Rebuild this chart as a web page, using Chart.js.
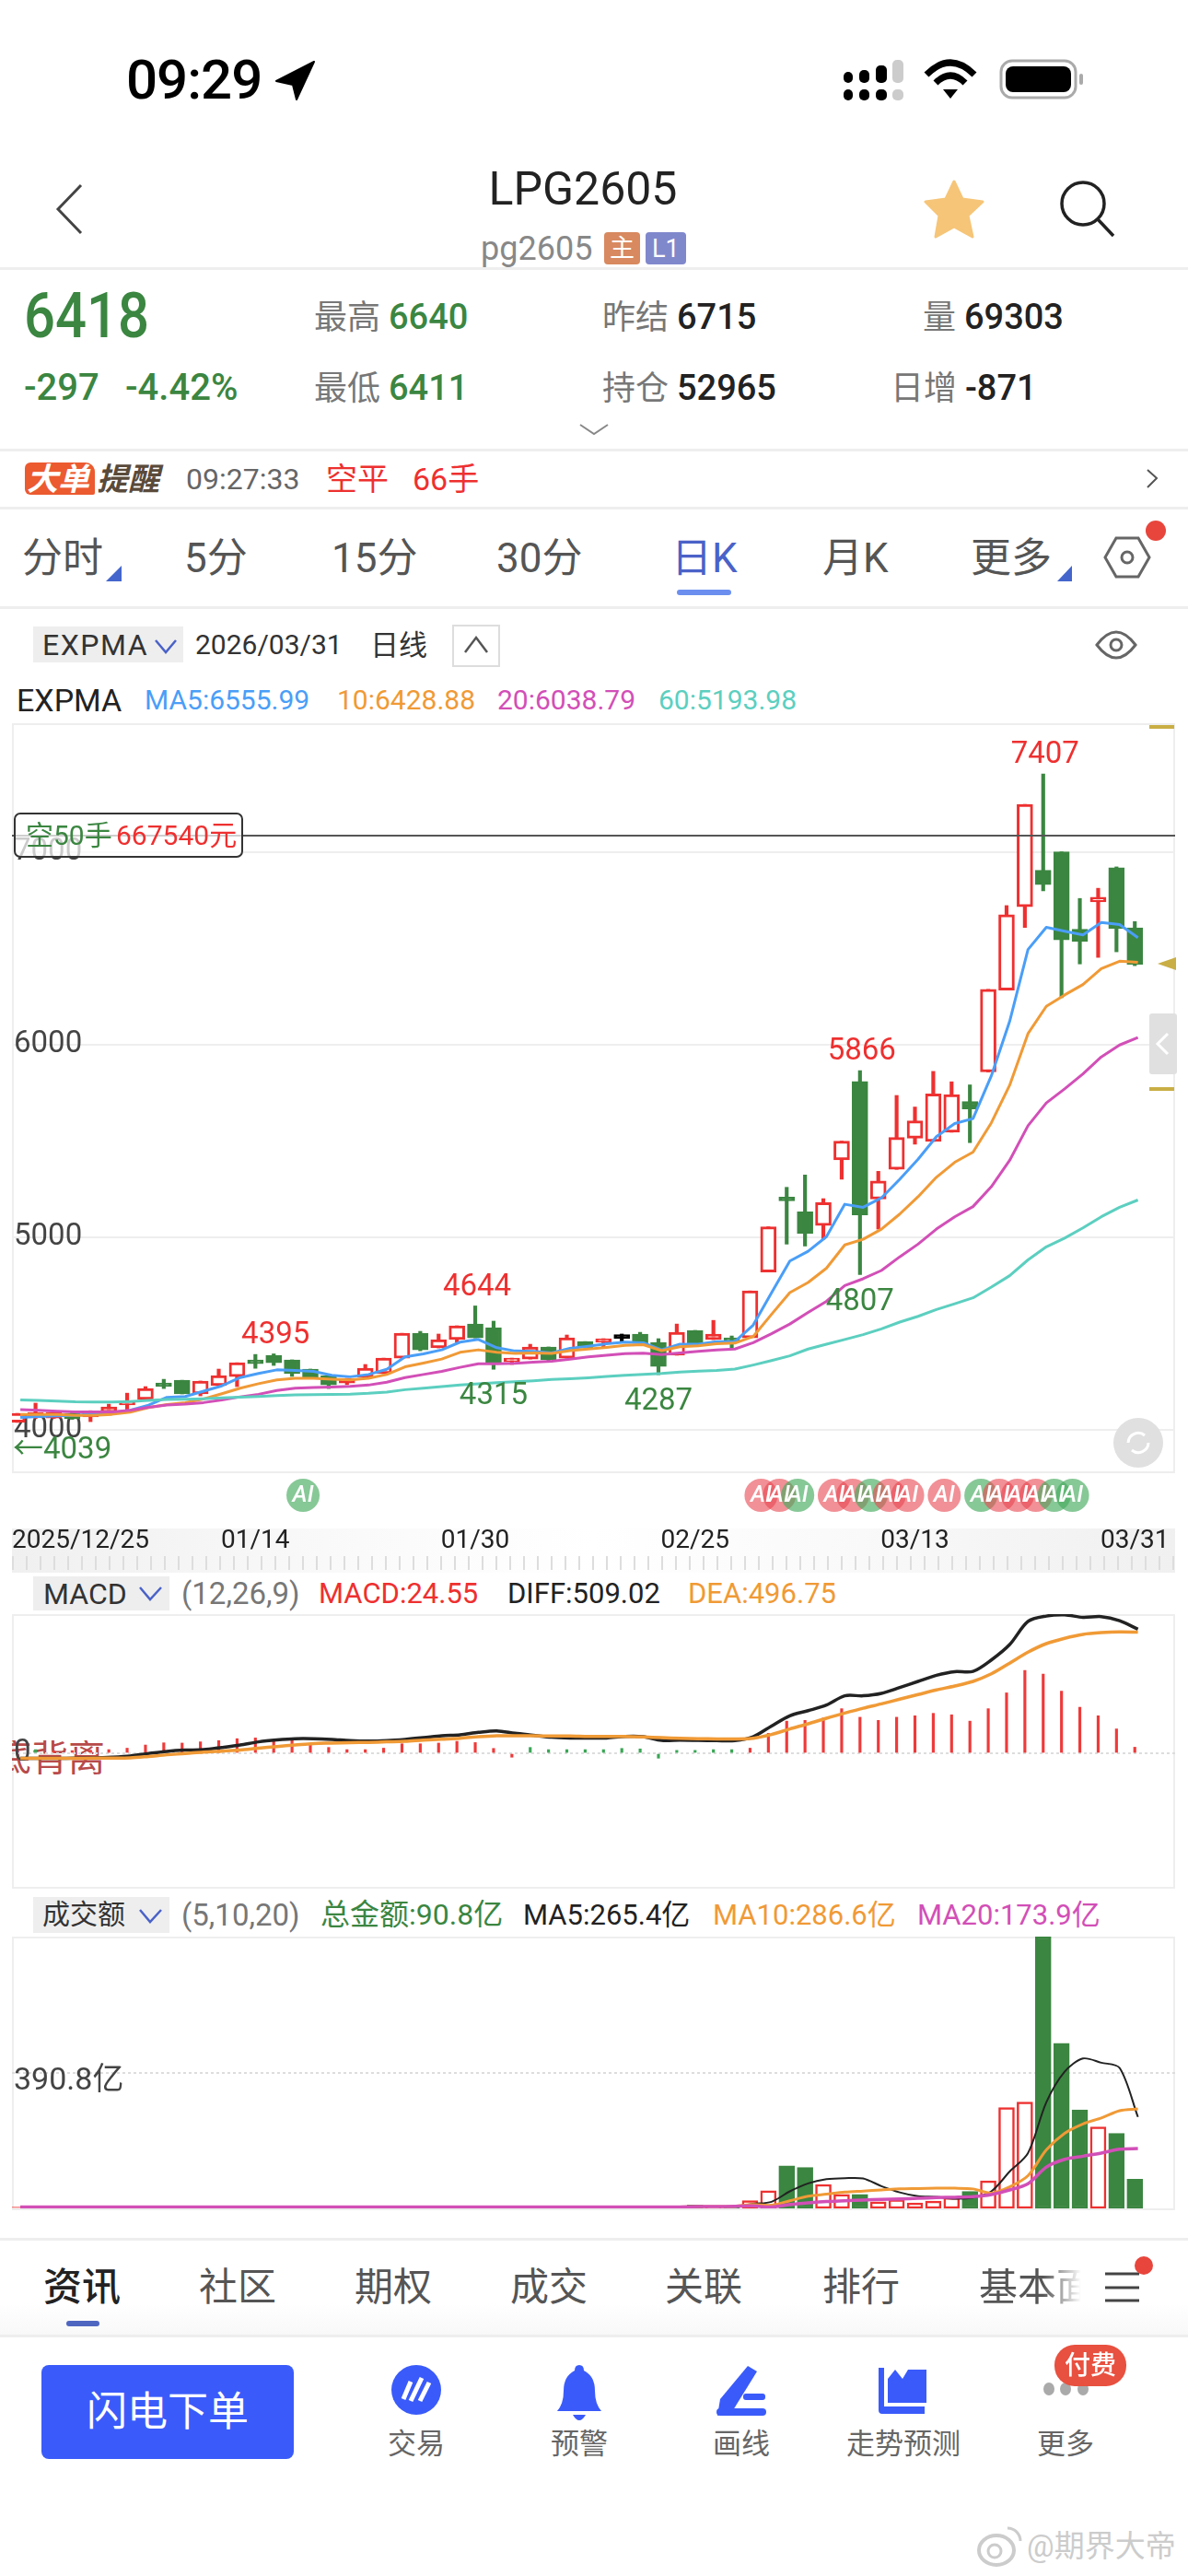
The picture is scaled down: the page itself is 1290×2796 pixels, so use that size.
<!DOCTYPE html>
<html>
<head>
<meta charset="utf-8">
<title>LPG2605</title>
<script src="https://cdn.jsdelivr.net/npm/chart.js@4/dist/chart.umd.min.js"></script>
<style>
  html, body { margin: 0; padding: 0; background: #fff; }
  body { position: relative; width: 1290px; height: 2796px; overflow: hidden; font-family: Roboto, "Noto Sans CJK SC", sans-serif; }
  .t { position: absolute; white-space: nowrap; transform: translateY(-50%); line-height: 1; }
  .box { position: absolute; }
  .hr { position: absolute; left: 0; width: 1290px; height: 3px; background: #eee; }
  .num { font-weight: 500; }
  canvas { position: absolute; left: 13px; z-index: 1; }
  #icons { position: absolute; left: 0; top: 0; z-index: 2; pointer-events: none; }
  .over { z-index: 3; }
  .green { color: #3b8641; } .red { color: #ee3030; } .grey { color: #777; }
  .blue { color: #4a9ef7; } .orange { color: #f09a36; } .pink { color: #d24fb7; } .teal { color: #5ccfc0; }
  .tab { font-size: 44px; color: #555; }
  .lower { font-size: 42px; }
  .foot { font-size: 31px; color: #666; transform: translate(-50%, -50%); }
  .btn { position: absolute; left: 36px; background: #eee; }
  .panelText { font-size: 30px; }
  .rowText { font-size: 31px; }
  .frame { position: absolute; left: 13px; width: 1263px; border: 2px solid #eee; box-sizing: border-box; }
</style>
</head>
<body>

<!-- status bar and header -->
<div class="t" style="left:137px;top:87px;font-size:60px;font-weight:500;color:#000;letter-spacing:-1px">09:29</div>
<div class="t" style="left:633px;top:205px;font-size:50px;color:#222;transform:translate(-50%,-50%)">LPG2605</div>
<div class="t" style="left:522px;top:270px;font-size:36px;color:#888">pg2605</div>
<div class="box" style="left:656px;top:252px;width:39px;height:35px;background:#d8895f;border-radius:4px"></div>
<div class="t" style="left:662px;top:270px;font-size:27px;color:#fff">主</div>
<div class="box" style="left:701px;top:252px;width:44px;height:35px;background:#8088cc;border-radius:4px"></div>
<div class="t" style="left:708px;top:270px;font-size:27px;color:#fff">L1</div>
<div class="hr" style="top:290px"></div>

<!-- quote block -->
<div class="t green num" style="left:26px;top:343px;font-size:68px;transform:translateY(-50%) scaleX(.88);transform-origin:left center">6418</div>
<div class="t grey" style="left:341px;top:344px;font-size:36px">最高 <span class="green num" style="font-size:38px">6640</span></div>
<div class="t grey" style="left:654px;top:344px;font-size:36px">昨结 <span class="num" style="font-size:38px;color:#222">6715</span></div>
<div class="t grey" style="left:1002px;top:344px;font-size:36px">量 <span class="num" style="font-size:38px;color:#222">69303</span></div>
<div class="t green num" style="left:26px;top:421px;font-size:40px">-297</div>
<div class="t green num" style="left:136px;top:421px;font-size:40px">-4.42%</div>
<div class="t grey" style="left:341px;top:421px;font-size:36px">最低 <span class="green num" style="font-size:38px">6411</span></div>
<div class="t grey" style="left:654px;top:421px;font-size:36px">持仓 <span class="num" style="font-size:38px;color:#222">52965</span></div>
<div class="t grey" style="left:967px;top:421px;font-size:36px">日增 <span class="num" style="font-size:38px;color:#222">-871</span></div>
<div class="hr" style="top:487px"></div>

<!-- big order alert -->
<div class="box" style="left:27px;top:502px;width:76px;height:35px;background:#ec5a30;border-radius:6px 10px 2px 6px"></div>
<div class="t" style="left:29px;top:520px;font-size:34px;font-weight:700;font-style:italic;color:#fff">大单</div>
<div class="t" style="left:105px;top:520px;font-size:34px;font-weight:700;font-style:italic;color:#5a4a3a">提醒</div>
<div class="t" style="left:202px;top:520px;font-size:32px;color:#666">09:27:33</div>
<div class="t red" style="left:354px;top:520px;font-size:34px">空平</div>
<div class="t red" style="left:448px;top:520px;font-size:34px">66手</div>
<div class="hr" style="top:550px"></div>

<!-- period tabs -->
<div class="t tab" style="left:24px;top:606px">分时</div>
<div class="t tab" style="left:200px;top:606px">5分</div>
<div class="t tab" style="left:360px;top:606px">15分</div>
<div class="t tab" style="left:539px;top:606px">30分</div>
<div class="t tab" style="left:729px;top:606px;color:#4a62c8">日K</div>
<div class="t tab" style="left:893px;top:606px">月K</div>
<div class="t tab" style="left:1054px;top:606px">更多</div>
<div class="box" style="left:735px;top:640px;width:59px;height:6px;background:#6c8fef;border-radius:3px"></div>
<div class="hr" style="top:658px"></div>

<!-- price panel header -->
<div class="btn" style="top:680px;width:163px;height:39px"></div>
<div class="t" style="left:46px;top:700px;font-size:32px;letter-spacing:1.5px;color:#333">EXPMA</div>
<div class="t panelText" style="left:212px;top:700px;color:#333">2026/03/31</div>
<div class="t panelText" style="left:402px;top:700px;color:#333;font-size:31px">日线</div>
<div class="box" style="left:491px;top:678px;width:52px;height:46px;border:2px solid #ddd;box-sizing:border-box"></div>
<div class="t" style="left:18px;top:760px;font-size:34px;color:#222">EXPMA</div>
<div class="t panelText blue" style="left:157px;top:760px">MA5:6555.99</div>
<div class="t panelText orange" style="left:366px;top:760px">10:6428.88</div>
<div class="t panelText pink" style="left:540px;top:760px">20:6038.79</div>
<div class="t panelText teal" style="left:715px;top:760px">60:5193.98</div>

<!-- frames and date strip sit behind the canvases -->
<div class="frame" style="top:785px;height:814px"></div>
<div class="box" style="left:13px;top:1659px;width:1263px;height:48px;background:linear-gradient(90deg,#f0f0f0,#fafafa 30%,#fff 50%,#fafafa 70%,#f0f0f0)"></div>
<div class="box" style="left:13px;top:1689px;width:1263px;height:15px;background:repeating-linear-gradient(90deg,#ddd 0 2px,transparent 2px 15px)"></div>
<div class="frame" style="top:1752px;height:298px"></div>
<div class="frame" style="top:2102px;height:297px"></div>
<div class="t" style="left:-6px;top:1909px;font-size:40px;color:#b84a4a;clip-path:inset(0 0 0 19px)">底背离</div>

<canvas id="priceChart" width="1263" height="935" style="top:785px"></canvas>
<canvas id="macdChart" width="1263" height="296" style="top:1752px"></canvas>
<canvas id="volChart" width="1263" height="295" style="top:2102px"></canvas>

<!-- open position tag on top of the chart -->
<div class="box over" style="left:15px;top:882px;width:249px;height:49px;border:2px solid #333;border-radius:7px;box-sizing:border-box;background:rgba(255,255,255,.72)"></div>
<div class="t green over" style="left:28px;top:907px;font-size:30px">空50手</div>
<div class="t red over" style="left:126px;top:907px;font-size:30px">667540元</div>

<!-- MACD header -->
<div class="btn" style="top:1711px;width:148px;height:37px"></div>
<div class="t" style="left:47px;top:1730px;font-size:32px;color:#333">MACD</div>
<div class="t grey" style="left:197px;top:1729px;font-size:33px">(12,26,9)</div>
<div class="t rowText red" style="left:346px;top:1729px">MACD:24.55</div>
<div class="t rowText" style="left:551px;top:1729px;color:#222">DIFF:509.02</div>
<div class="t rowText orange" style="left:747px;top:1729px">DEA:496.75</div>

<!-- volume header -->
<div class="btn" style="top:2059px;width:148px;height:39px"></div>
<div class="t panelText" style="left:46px;top:2078px;color:#333">成交额</div>
<div class="t grey" style="left:197px;top:2078px;font-size:33px">(5,10,20)</div>
<div class="t rowText green" style="left:348px;top:2078px;font-size:32px">总金额:90.8亿</div>
<div class="t rowText" style="left:568px;top:2078px;color:#222">MA5:265.4亿</div>
<div class="t rowText orange" style="left:774px;top:2078px">MA10:286.6亿</div>
<div class="t rowText pink" style="left:996px;top:2078px">MA20:173.9亿</div>
<div class="hr" style="top:2429px"></div>

<!-- bottom tabs -->
<div class="box" style="left:0;top:2500px;width:1290px;height:34px;background:linear-gradient(#fff,#f8f8f8)"></div>
<div class="t tab lower" style="left:47px;top:2483px;color:#222;font-weight:500">资讯</div>
<div class="t tab lower" style="left:216px;top:2483px">社区</div>
<div class="t tab lower" style="left:385px;top:2483px">期权</div>
<div class="t tab lower" style="left:554px;top:2483px">成交</div>
<div class="t tab lower" style="left:722px;top:2483px">关联</div>
<div class="t tab lower" style="left:893px;top:2483px">排行</div>
<div class="t tab lower" style="left:1063px;top:2483px;-webkit-mask-image:linear-gradient(90deg,#000 55%,transparent 88%)">基本面</div>
<div class="box" style="left:72px;top:2519px;width:36px;height:6px;background:#4f66c0;border-radius:3px"></div>
<div class="hr" style="top:2534px"></div>

<!-- bottom toolbar -->
<div class="box" style="left:45px;top:2567px;width:274px;height:102px;background:#3a5bfa;border-radius:8px"></div>
<div class="t" style="left:182px;top:2618px;font-size:44px;color:#fff;transform:translate(-50%,-50%)">闪电下单</div>
<div class="t foot" style="left:452px;top:2652px">交易</div>
<div class="t foot" style="left:629px;top:2652px">预警</div>
<div class="t foot" style="left:805px;top:2652px">画线</div>
<div class="t foot" style="left:981px;top:2652px">走势预测</div>
<div class="t foot" style="left:1157px;top:2652px">更多</div>
<div class="box" style="left:1145px;top:2545px;width:78px;height:45px;background:#e8503f;border-radius:22px;z-index:3"></div>
<div class="t" style="left:1184px;top:2568px;font-size:28px;font-weight:500;color:#fff;transform:translate(-50%,-50%);z-index:4">付费</div>
<div class="t" style="left:1115px;top:2763px;font-size:33px;color:#ccc">@期界大帝</div>

<svg id="icons" width="1290" height="2796">
  <!-- status bar -->
  <polygon points="341,67 300,88 318,92 322,108" fill="#000" stroke="#000" stroke-width="2" stroke-linejoin="round"/>
  <g fill="#000">
    <rect x="916" y="78" width="10" height="12" rx="5"/><rect x="933" y="76" width="11" height="14" rx="5"/><rect x="951" y="71" width="12" height="19" rx="5"/>
    <rect x="916" y="97" width="10" height="12" rx="5"/><rect x="933" y="97" width="11" height="12" rx="5"/><rect x="951" y="97" width="12" height="12" rx="5"/>
  </g>
  <rect x="969" y="65" width="12" height="25" rx="5" fill="#ccc"/><rect x="969" y="97" width="12" height="12" rx="5" fill="#ccc"/>
  <g fill="none" stroke="#000" stroke-width="7">
    <path d="M1006 81 Q1032 55 1058 81"/><path d="M1016 90 Q1032 74 1048 90"/>
  </g>
  <polygon points="1024,97 1040,97 1032,107" fill="#000"/>
  <rect x="1087" y="66" width="81" height="40" rx="12" fill="none" stroke="#aaa" stroke-width="3"/>
  <rect x="1092" y="72" width="71" height="28" rx="8" fill="#000"/>
  <rect x="1172" y="80" width="4" height="12" rx="2" fill="#aaa"/>

  <!-- header icons -->
  <polyline points="88,201 63,227 88,253" fill="none" stroke="#444" stroke-width="3"/>
  <path d="M1036 197 L1045 216 L1067 219 L1051 234 L1056 257 L1036 246 L1016 257 L1020 234 L1005 219 L1027 216 Z" fill="#f6c578" stroke="#f6c578" stroke-width="3" stroke-linejoin="round"/>
  <circle cx="1176" cy="221" r="23" fill="none" stroke="#222" stroke-width="3.5"/>
  <line x1="1192" y1="238" x2="1209" y2="256" stroke="#222" stroke-width="3.5"/>
  <polyline points="630,461 645,471 660,461" fill="none" stroke="#888" stroke-width="2"/>
  <polyline points="1246,510 1256,519 1246,529" fill="none" stroke="#555" stroke-width="2"/>

  <!-- tab markers -->
  <polygon points="132,614 132,631 115,631" fill="#4466cc"/>
  <polygon points="1164,614 1164,631 1148,631" fill="#4466cc"/>
  <polygon points="1212,584 1236,584 1248,605 1236,626 1212,626 1200,605" fill="none" stroke="#666" stroke-width="3"/>
  <circle cx="1224" cy="605" r="6" fill="none" stroke="#666" stroke-width="3"/>
  <circle cx="1255" cy="576" r="11" fill="#e8453c"/>

  <!-- panel header glyphs -->
  <polyline points="169,695 180,708 191,695" fill="none" stroke="#4a62c8" stroke-width="2.5"/>
  <polyline points="152,1723 163,1736 175,1723" fill="none" stroke="#4a62c8" stroke-width="2.5"/>
  <polyline points="152,2073 163,2086 175,2073" fill="none" stroke="#4a62c8" stroke-width="2.5"/>
  <polyline points="505,708 517,692 529,708" fill="none" stroke="#555" stroke-width="2.5"/>
  <path d="M1191 700 Q1212 672 1233 700 Q1212 728 1191 700 Z" fill="none" stroke="#666" stroke-width="3"/>
  <circle cx="1212" cy="700" r="6" fill="none" stroke="#666" stroke-width="3"/>

  <!-- price panel side marks -->
  <rect x="1248" y="787" width="27" height="4" fill="#c9ae45"/>
  <rect x="1248" y="1180" width="27" height="4" fill="#c9ae45"/>
  <polygon points="1257,1046 1277,1039 1277,1053" fill="#c9ae45"/>
  <rect x="1248" y="1100" width="30" height="66" rx="3" fill="#e0e0e0"/>
  <polyline points="1268,1122 1257,1133 1268,1144" fill="none" stroke="#fff" stroke-width="3"/>
  <circle cx="1236" cy="1566" r="27" fill="#e0e0e0"/>
  <path d="M1225 1566 a11 11 0 0 1 18 -8 M1247 1566 a11 11 0 0 1 -18 8" fill="none" stroke="#fff" stroke-width="3"/>

  <!-- bottom tabs menu -->
  <g stroke="#444" stroke-width="3"><line x1="1200" y1="2468" x2="1237" y2="2468"/><line x1="1200" y1="2483" x2="1237" y2="2483"/><line x1="1200" y1="2497" x2="1237" y2="2497"/></g>
  <circle cx="1242" cy="2459" r="10" fill="#e8453c"/>

  <!-- toolbar icons -->
  <ellipse cx="452" cy="2594" rx="27" ry="27" fill="#3a5bfa"/>
  <path d="M446 2585 L438 2604 M458 2581 L446 2606 M466 2586 L456 2606" stroke="#fff" stroke-width="5" fill="none"/>
  <path d="M629 2567 q5 0 5 6 q12 6 12 22 q0 14 7 22 h-48 q7 -8 7 -22 q0 -16 12 -22 q0 -6 5 -6 Z" fill="#3a5bfa"/>
  <path d="M622 2621 h14 q-7 12 -14 0 Z" fill="#3a5bfa"/>
  <path d="M812 2568 L822 2574 L796 2616 L779 2622 L782 2604 Z" fill="#3a5bfa"/>
  <rect x="807" y="2598" width="24" height="7" rx="3" fill="#3a5bfa"/>
  <rect x="778" y="2612" width="54" height="8" rx="4" fill="#3a5bfa" transform="translate(0,2)"/>
  <path d="M954 2570 h6 v42 h44 v8 h-46 a4 4 0 0 1 -4 -4 Z" fill="#3a5bfa"/>
  <path d="M964 2582 L972 2572 L980 2582 L986 2572 L1006 2572 V2608 H964 Z" fill="#3a5bfa"/>
  <g fill="#aaa"><ellipse cx="1139" cy="2593" rx="6" ry="7"/><ellipse cx="1157" cy="2593" rx="6" ry="7"/><ellipse cx="1176" cy="2593" rx="6" ry="7"/></g>

  <!-- watermark mark -->
  <ellipse cx="1082" cy="2768" rx="19" ry="16" fill="none" stroke="#ccc" stroke-width="4"/>
  <circle cx="1080" cy="2769" r="7" fill="none" stroke="#ccc" stroke-width="3"/>
  <path d="M1094 2744 a14 14 0 0 1 14 14" fill="none" stroke="#ccc" stroke-width="3"/>
</svg>

<script>
// candles
const opens = [4040,4072,4062,4086,4068,4091,4130,4158,4239,4258,4187,4230,4277,4364,4388,4364,4316,4282,4244,4273,4292,4373,4502,4426,4469,4550,4531,4354,4368,4431,4373,4459,4455,4476,4498,4455,4388,4517,4469,4478,4478,4820,5209,5133,5062,5402,5810,5199,5353,5515,5498,5546,5706,5859,6284,6717,6906,7002,6600,6742,6920,6608];
const closes = [4086,4090,4091,4058,4076,4120,4136,4215,4225,4187,4254,4282,4349,4344,4349,4292,4273,4234,4268,4320,4373,4502,4416,4469,4541,4478,4344,4373,4431,4364,4478,4426,4474,4476,4450,4330,4507,4450,4498,4459,4722,5055,5190,5020,5180,5500,5117,5293,5519,5605,5745,5741,5667,6288,6676,7248,6832,6545,6536,6766,6604,6418];
const highs = [4086,4139,4095,4095,4100,4134,4191,4225,4263,4258,4254,4316,4349,4392,4395,4364,4316,4282,4268,4340,4373,4502,4512,4498,4541,4644,4565,4373,4445,4431,4493,4459,4474,4498,4507,4474,4550,4517,4569,4488,4722,5055,5260,5324,5201,5500,5866,5343,5737,5677,5862,5808,5792,6288,6723,7248,7407,7002,6760,6813,6924,6640];
const lows = [4039,4060,4060,4055,4043,4085,4096,4158,4215,4187,4177,4230,4225,4320,4335,4278,4273,4215,4235,4273,4292,4373,4411,4426,4455,4478,4315,4340,4368,4359,4373,4426,4431,4459,4450,4287,4388,4450,4469,4426,4478,4820,4965,4955,4990,5302,4807,5043,5353,5484,5498,5546,5492,5859,6284,6610,6800,6245,6420,6454,6483,6411];

const ema5 = [4065,4070,4073,4076,4083,4089,4102,4129,4169,4174,4201,4229,4272,4293,4312,4309,4304,4284,4276,4288,4315,4379,4395,4416,4456,4470,4427,4410,4408,4400,4424,4435,4448,4456,4453,4416,4445,4445,4459,4459,4544,4712,4877,4928,5004,5172,5156,5205,5302,5406,5523,5591,5617,5839,6122,6495,6610,6590,6571,6635,6625,6556];
const ema10 = [4081,4081,4081,4076,4076,4081,4092,4116,4132,4142,4161,4188,4217,4240,4260,4268,4268,4264,4260,4268,4288,4328,4347,4368,4403,4416,4403,4398,4400,4397,4412,4420,4429,4439,4443,4412,4432,4437,4448,4451,4485,4600,4713,4766,4840,4961,4990,5043,5121,5211,5312,5390,5443,5595,5790,6058,6200,6259,6313,6395,6434,6429];
const ema20 = [4105,4102,4097,4094,4094,4094,4102,4118,4129,4134,4142,4156,4172,4185,4205,4217,4220,4223,4226,4233,4248,4272,4288,4304,4325,4344,4344,4346,4352,4357,4368,4380,4388,4396,4399,4392,4400,4408,4415,4420,4453,4500,4550,4610,4668,4750,4785,4828,4899,4965,5043,5107,5160,5263,5400,5580,5698,5771,5849,5937,5999,6038];
const ema60 = [4156,4153,4150,4146,4145,4145,4148,4153,4158,4159,4162,4166,4170,4174,4178,4182,4183,4185,4186,4190,4197,4209,4217,4225,4233,4240,4245,4250,4255,4262,4266,4271,4278,4284,4289,4293,4300,4305,4309,4316,4337,4360,4385,4420,4445,4470,4495,4525,4560,4590,4625,4655,4686,4742,4801,4883,4951,4996,5049,5107,5156,5194];

const priceTicks = [4000, 5000, 6000, 7000];
const dateTicks = [1, 13, 25, 37, 49, 61];
const dateLabels = ['2025/12/25', '01/14', '01/30', '02/25', '03/13', '03/31'];
const positionPrice = 7086;

// marked extremes: [index, value]
const highMarks = [[14, 4395], [25, 4644], [46, 5866], [56, 7407]];
const lowMarks = [[26, 4315], [35, 4287], [46, 4807]];
const firstLow = 4039;

// AI signal badges, by candle index
const aiBadges = [15, 40, 41, 42, 44, 45, 46, 47, 48, 50, 52, 53, 54, 55, 56, 57];
const aiGreen = [15, 42, 46, 52, 56, 57];

const diff = [-21,-21,-21,-20,-19,-16,-11,-1,8,13,15,24,34,47,55,60,60,57,52,50,52,57,64,72,76,86,92,82,74,66,63,63,63,69,68,53,54,53,52,52,68,112,154,175,198,236,236,246,270,295,320,335,336,383,446,541,563,568,558,561,544,509];
const dea = [-21,-21,-21,-21,-20,-20,-19,-13,-6,-1,5,9,13,21,28,34,40,42,44,45,47,49,54,58,62,68,72,72,72,71,71,69,69,69,67,64,62,60,59,59,62,77,100,121,144,165,185,203,222,241,260,276,295,326,370,415,450,472,488,495,498,497];
const macdRed = [null,null,8,11,13,15,21,34,43,42,47,52,60,63,55,52,34,24,15,15,21,39,39,42,49,44,20,-16,null,null,null,null,null,null,null,null,null,null,null,null,21,82,132,135,145,183,148,135,148,154,164,158,132,183,248,340,325,255,189,154,100,25];
const macdGreen = [null,15,null,null,null,null,null,null,null,null,null,null,null,null,null,null,null,null,null,null,null,null,null,null,null,null,null,null,24,15,15,15,15,20,18,-20,12,12,15,15,null,null,null,null,null,null,null,null,null,null,null,null,null,null,null,null,null,null,null,null,null,null];
const macdTicks = [0];

const volume = [4,3,3,3,3,3,3,3,4,4,3,4,4,3,3,4,3,3,3,3,4,4,4,4,4,5,5,4,3,3,3,3,3,3,4,6,6,10,3,4,22,51,122,118,69,40,40,19,25,16,21,31,49,79,290,306,781.6,475,283,234,216,84];
const volMa5 = [3,3,3,3,3,3,3,3,3,3,3,3,3,3,3,3,3,3,3,3,3,4,4,4,4,4,4,4,4,4,4,3,3,3,3,4,4,5,5,6,13,19,49,72,84,87,86,64,46,35,33,28,31,49,106,159,305,393,431,419,404,263];
const volMa10 = [3,3,3,3,3,3,3,3,3,3,3,3,3,3,3,3,3,3,3,3,3,3,4,4,4,4,4,4,4,4,4,4,4,4,4,4,4,5,5,6,11,9,22,35,41,47,50,53,56,57,58,58,56,44,62,94,168,216,243,260,281,286];
const volMa20 = [4,4,4,4,4,4,4,4,4,4,4,4,4,4,4,4,4,4,4,4,4,4,4,4,4,4,4,4,4,4,4,4,4,4,4,4,4,5,5,6,7,4,11,16,20,22,24,26,27,29,31,32,34,40,53,71,119,141,150,159,170,172];
const volTicks = [390.8];

const RED = '#ee3030', GREEN = '#3b8641', INK = '#222', GRID = '#eee';
const BLUE_L = '#4a9ef7', ORANGE_L = '#f09a36', PINK_L = '#d24fb7', TEAL_L = '#5ccfc0';
const FONT = 'Roboto, "Noto Sans CJK SC", sans-serif';

const xMin = -0.286, xMax = 63.2;
const lineShift = 0.17;
const candleColor = opens.map((o, i) => closes[i] > o ? RED : closes[i] < o ? GREEN : '#000');
const candleFill = opens.map((o, i) => closes[i] > o ? '#fff' : candleColor[i]);

const toLine = vals => vals.map((y, i) => ({ x: i + lineShift, y }));
const toBars = vals => vals.map((y, i) => ({ x: i, y }));

// with equal order the first dataset ends up on top, so list lines top-down
function line(vals, color, width, tension) {
  return { type: 'line', data: toLine(vals), borderColor: color, borderWidth: width, pointRadius: 0, tension: tension || 0, order: 0, borderJoinStyle: 'round' };
}

function xAxis() {
  return { type: 'linear', min: xMin, max: xMax, offset: false, display: false, grid: { offset: false, display: false } };
}

function yAxis(min, max, ticks, label, gridOpts, borderOpts, tickOpts) {
  return {
    min, max,
    afterBuildTicks: s => { s.ticks = ticks.map(v => ({ value: v })); },
    afterFit: s => { s.paddingTop = 0; s.paddingBottom = 0; s.width = 0; },
    grid: Object.assign({ drawTicks: false }, gridOpts),
    border: borderOpts,
    ticks: Object.assign({ mirror: true, padding: 2, color: '#444', font: { family: FONT, size: 33 }, callback: label }, tickOpts),
  };
}

function baseOptions(scales) {
  return {
    responsive: false, animation: false, events: [],
    layout: { padding: 0 },
    plugins: { legend: { display: false }, tooltip: { enabled: false } },
    scales,
  };
}

// extreme labels and AI badges, placed through the chart's scales
const priceMarks = {
  id: 'priceMarks',
  afterDatasetsDraw(chart) {
    const { ctx, scales: { x, y } } = chart;
    ctx.save();
    ctx.font = '33px ' + FONT;
    ctx.textAlign = 'center';
    ctx.textBaseline = 'middle';
    ctx.fillStyle = RED;
    highMarks.forEach(([i, v]) => ctx.fillText(String(v), x.getPixelForValue(i + 0.1), y.getPixelForValue(v) - 20));
    ctx.fillStyle = GREEN;
    lowMarks.forEach(([i, v]) => ctx.fillText(String(v), x.getPixelForValue(i), y.getPixelForValue(v) + 30));
    ctx.textAlign = 'left';
    ctx.fillText('←' + firstLow, 1, y.getPixelForValue(firstLow) + 31);

    const by = y.bottom + 26;
    aiBadges.forEach(i => {
      ctx.beginPath();
      ctx.arc(x.getPixelForValue(i + 0.6), by, 18, 0, Math.PI * 2);
      ctx.fillStyle = aiGreen.includes(i) ? 'rgba(70,170,95,.65)' : 'rgba(232,70,80,.6)';
      ctx.fill();
    });
    ctx.fillStyle = '#fff';
    ctx.font = 'italic 500 25px ' + FONT;
    ctx.textAlign = 'center';
    aiBadges.forEach(i => ctx.fillText('AI', x.getPixelForValue(i + 0.6), by + 1));
    ctx.restore();
  },
};

const priceX = {
  type: 'linear', min: xMin, max: xMax, offset: false,
  grid: { offset: false, display: false },
  border: { display: false },
  afterBuildTicks: s => { s.ticks = [xMin, ...dateTicks.slice(1), xMax].map(v => ({ value: v })); },
  afterFit: s => { s.height = 123; s.paddingLeft = 0; s.paddingRight = 0; },
  ticks: {
    align: 'inner', autoSkip: false, maxRotation: 0, padding: 51, color: '#222',
    font: { family: FONT, size: 28 },
    callback: (v, i) => dateLabels[i] || '',
  },
};

new Chart(document.getElementById('priceChart'), {
  type: 'bar',
  data: {
    datasets: [
      { label: 'wick', data: lows.map((l, i) => ({ x: i, y: [l, highs[i]] })), backgroundColor: candleColor, barThickness: 3.5, grouped: false, order: 3 },
      { label: 'body', data: opens.map((o, i) => ({ x: i, y: [Math.min(o, closes[i]), Math.max(o, closes[i])] })), backgroundColor: candleFill, borderColor: candleColor, borderWidth: 3, borderSkipped: false, barThickness: 17, minBarLength: 4, grouped: false, order: 2 },
      line(ema60, TEAL_L, 3),
      line(ema20, PINK_L, 3),
      line(ema10, ORANGE_L, 3),
      line(ema5, BLUE_L, 3),
      { type: 'line', data: [{ x: xMin, y: positionPrice }, { x: xMax, y: positionPrice }], borderColor: '#555', borderWidth: 2, pointRadius: 0, order: 1 },
    ],
  },
  options: baseOptions({
    x: priceX,
    y: yAxis(3785, 7670, priceTicks, v => String(v), { color: GRID, lineWidth: 2 }, { display: false }),
  }),
  plugins: [priceMarks],
});

new Chart(document.getElementById('macdChart'), {
  type: 'bar',
  data: {
    datasets: [
      { data: toBars(macdRed), backgroundColor: '#ee3a3a', barThickness: 2.5, grouped: false, order: 2 },
      { data: toBars(macdGreen), backgroundColor: '#3aa655', barThickness: 2.5, grouped: false, order: 2 },
      line(dea, ORANGE_L, 3.5, 0.3),
      line(diff, INK, 3.5, 0.3),
    ],
  },
  options: baseOptions({
    x: xAxis(),
    y: yAxis(-548, 571, macdTicks, v => String(v), { color: '#ddd', lineWidth: 2 }, { display: false, dash: [3, 3] }),
  }),
});

new Chart(document.getElementById('volChart'), {
  type: 'bar',
  data: {
    datasets: [
      { data: toBars(volume), backgroundColor: candleFill, borderColor: candleColor, borderWidth: 2.5, borderSkipped: false, barThickness: 17, grouped: false, order: 2 },
      line(volMa20, PINK_L, 3.5, 0.3),
      line(volMa10, ORANGE_L, 3, 0.3),
      line(volMa5, INK, 2, 0.3),
    ],
  },
  options: baseOptions({
    x: xAxis(),
    y: yAxis(0, 781.6, volTicks, v => v + '亿', { color: '#ddd', lineWidth: 2 }, { display: false, dash: [3, 3] }, { labelOffset: 10, font: { family: FONT, size: 34 } }),
  }),
});
</script>
</body>
</html>
